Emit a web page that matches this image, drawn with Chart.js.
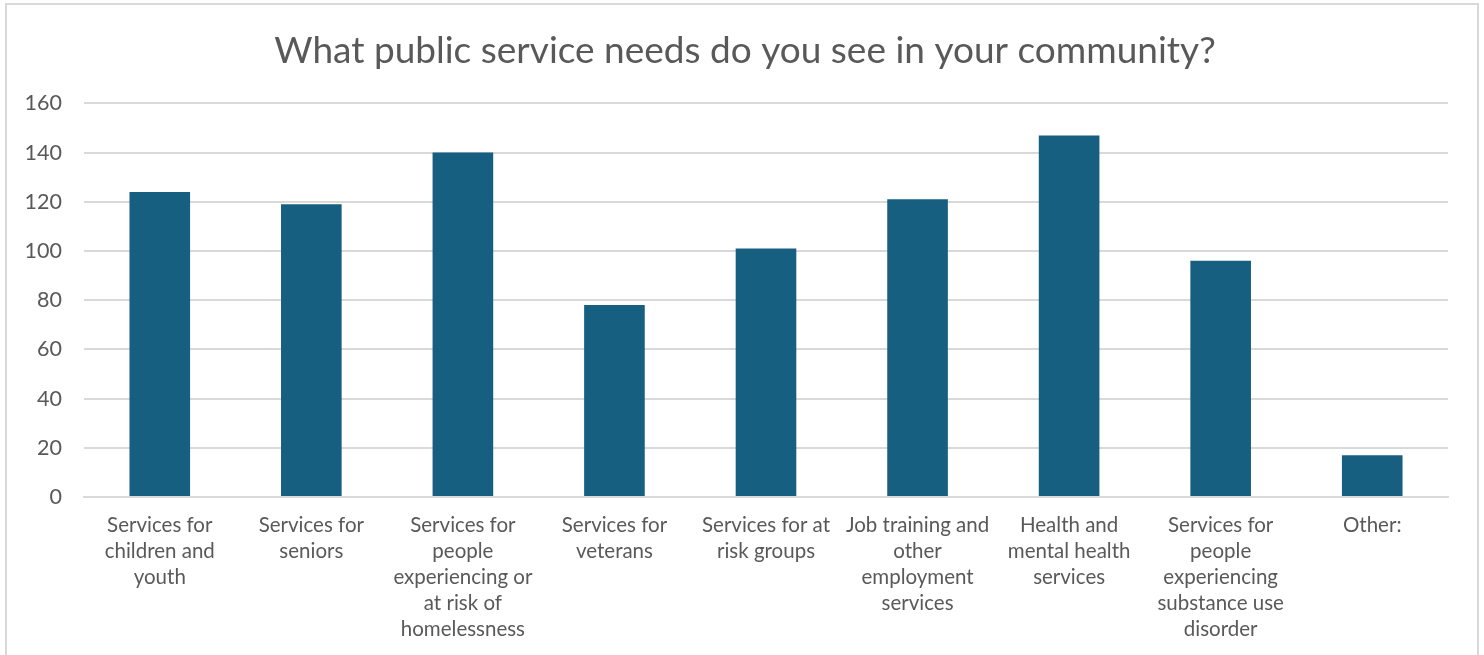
<!DOCTYPE html>
<html>
<head>
<meta charset="utf-8">
<script src="https://cdn.jsdelivr.net/npm/chart.js@4/dist/chart.umd.min.js"></script>
<style>
  html, body { margin: 0; padding: 0; background: #fff; }
  #wrap { position: relative; width: 1484px; height: 655px; overflow: hidden; }
  #frame {
    position: absolute; left: 5px; top: 3px; width: 1470px; height: 700px;
    border: 2px solid #d9d9d9; pointer-events: none;
  }
</style>
</head>
<body>
<div id="wrap">
  <canvas id="chart" width="1484" height="655"></canvas>
  <div id="frame"></div>
</div>
<script>
const categories = [
  ['Services for', 'children and', 'youth'],
  ['Services for', 'seniors'],
  ['Services for', 'people', 'experiencing or', 'at risk of', 'homelessness'],
  ['Services for', 'veterans'],
  ['Services for at', 'risk groups'],
  ['Job training and', 'other', 'employment', 'services'],
  ['Health and', 'mental health', 'services'],
  ['Services for', 'people', 'experiencing', 'substance use', 'disorder'],
  ['Other:'],
];
const responses = [124, 119, 140, 78, 101, 121, 147, 96, 17];
const yTicks = [0, 20, 40, 60, 80, 100, 120, 140, 160];

const textColor = '#595959';
const gridColor = '#d9d9d9';
const fontFamily = 'Lato, "Open Sans", sans-serif';

new Chart(document.getElementById('chart'), {
  type: 'bar',
  data: {
    labels: categories,
    datasets: [{
      data: responses,
      backgroundColor: '#175f80',
      borderWidth: 0,
      barPercentage: 1,
      categoryPercentage: 0.4,
    }],
  },
  options: {
    responsive: false,
    animation: false,
    layout: { padding: { left: 20, right: 14, top: 0, bottom: 0 } },
    plugins: {
      legend: { display: false },
      tooltip: { enabled: false },
      title: {
        display: true,
        text: 'What public service needs do you see in your community?',
        color: textColor,
        font: { family: fontFamily, size: 37, weight: 'normal', lineHeight: 1.2 },
        padding: { top: 29, bottom: 30 },
      },
    },
    scales: {
      x: {
        grid: { display: false, drawTicks: false },
        border: { display: true, color: gridColor, width: 2 },
        ticks: {
          color: textColor,
          font: { family: fontFamily, size: 20.5, lineHeight: 1.27 },
          padding: 15,
          maxRotation: 0,
          autoSkip: false,
        },
        afterFit(scale) { scale.height = 158; },
      },
      y: {
        min: 0,
        max: 160,
        afterBuildTicks(scale) { scale.ticks = yTicks.map(v => ({ value: v })); },
        grid: { color: gridColor, lineWidth: 2, drawTicks: false },
        border: { display: false },
        ticks: {
          color: textColor,
          font: { family: fontFamily, size: 21.5 },
          padding: 22,
        },
        afterFit(scale) { scale.width = 64; },
      },
      // empty right-hand spacer so the title centres on the whole frame
      spacer: {
        position: 'right',
        grid: { display: false, drawTicks: false },
        border: { display: false },
        ticks: { display: false },
        afterFit(scale) { scale.width = 22; },
      },
    },
  },
});
</script>
</body>
</html>
